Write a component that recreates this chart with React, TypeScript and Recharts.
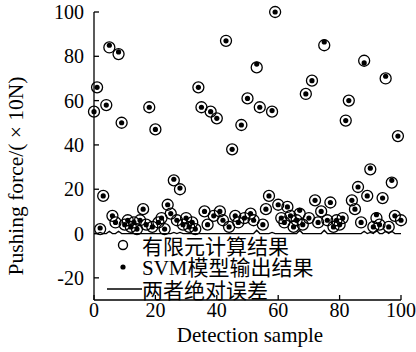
import { ComposedChart, Line, Scatter, XAxis, YAxis, Legend } from "recharts";

// sample index 0..100
const samples = [
  0, 1, 2, 3, 4, 5, 6, 7, 8, 9, 10, 11, 12, 13, 14, 15, 16, 17, 18, 19, 20,
  21, 22, 23, 24, 25, 26, 27, 28, 29, 30, 31, 32, 33, 34, 35, 36, 37, 38, 39, 40,
  41, 42, 43, 44, 45, 46, 47, 48, 49, 50, 51, 52, 53, 54, 55, 56, 57, 58, 59, 60,
  61, 62, 63, 64, 65, 66, 67, 68, 69, 70, 71, 72, 73, 74, 75, 76, 77, 78, 79, 80,
  81, 82, 83, 84, 85, 86, 87, 88, 89, 90, 91, 92, 93, 94, 95, 96, 97, 98, 99, 100,
];

// 有限元计算结果 (×10N)
const feValues = [
  55, 66, 2, 17, 58, 84, 8, 5, 81, 50, 4, 6, 3, 5, 2, 6, 11, 4, 57, 3, 47,
  5, 7, 2, 13, 9, 24, 6, 20, 4, 7, 3, 5, 2, 66, 57, 10, 4, 55, 8, 52,
  10, 6, 87, 3, 38, 8, 5, 49, 7, 61, 9, 6, 75, 57, 4, 11, 17, 55, 100, 13,
  7, 5, 12, 8, 3, 6, 9, 4, 63, 7, 69, 15, 5, 10, 85, 6, 14, 3, 6, 4,
  7, 51, 60, 15, 11, 21, 5, 78, 17, 29, 3, 7, 4, 16, 70, 3, 23, 8, 44, 6,
];

// SVM模型输出结果 (×10N)
const svmValues = [
  55, 66, 2.5, 17, 58, 85, 8, 5, 82, 50, 4, 6, 3, 5, 2, 6, 11, 4, 57, 3, 47,
  5, 7, 2, 13, 9, 24.5, 6, 20.5, 4, 7, 3, 5, 2, 66, 57, 10, 4, 55, 8, 52,
  10, 6, 87, 3, 38, 8, 5, 49, 7, 61, 9, 6, 76.5, 57, 4, 11, 17, 55.5, 100, 13,
  7, 5, 12, 8, 3, 6, 10.5, 4, 63, 7, 69, 15, 5, 10, 86.5, 6, 14, 3, 6, 4,
  7, 51, 60, 15, 11, 21, 5, 77, 17, 29.5, 3, 8.5, 4, 16, 71, 3, 24, 8, 44, 6,
];

const xTicks = [0, 20, 40, 60, 80, 100];
const yTicks = [-20, 0, 20, 40, 60, 80, 100];

const data = samples.map((x, i) => ({
  x,
  fe: feValues[i],
  svm: svmValues[i],
  err: Math.abs(feValues[i] - svmValues[i]),
}));

const FONT = "'Liberation Serif', 'Times New Roman', 'DejaVu Serif', serif";
const CJK = "'Noto Sans CJK SC', sans-serif";

const OpenCircle = (p: any) => (
  <circle cx={p.cx} cy={p.cy} r={5.5} fill="none" stroke="#000" strokeWidth={1.3} />
);
const Dot = (p: any) => <circle cx={p.cx} cy={p.cy} r={2.6} fill="#000" />;

function LegendBox() {
  const row = { display: "flex", alignItems: "center", height: 22, whiteSpace: "nowrap" as const };
  const txt = { fontSize: 21, fontFamily: FONT, color: "#000", lineHeight: "22px" };
  return (
    <div>
      <div style={row}>
        <svg width={42} height={22}>
          <circle cx={23} cy={11} r={4.5} fill="none" stroke="#000" strokeWidth={1.4} />
        </svg>
        <span style={{ ...txt, fontFamily: CJK }}>有限元计算结果</span>
      </div>
      <div style={row}>
        <svg width={42} height={22}>
          <circle cx={23} cy={11} r={2.6} fill="#000" />
        </svg>
        <span style={txt}>
          SVM<span style={{ fontFamily: CJK }}>模型输出结果</span>
        </span>
      </div>
      <div style={row}>
        <svg width={42} height={22}>
          <line x1={7} y1={11} x2={42} y2={11} stroke="#000" strokeWidth={1.3} />
        </svg>
        <span style={{ ...txt, fontFamily: CJK }}>两者绝对误差</span>
      </div>
    </div>
  );
}

const XLabel = () => (
  <text x={250} y={342} textAnchor="middle" fontSize={21} fill="#000" fontFamily={FONT}>
    Detection sample
  </text>
);

const YLabel = () => (
  <text
    x={0}
    y={0}
    transform="translate(23,176) rotate(-90)"
    textAnchor="middle"
    fontSize={21.5}
    fill="#000"
    fontFamily={FONT}
  >
    Pushing force/( × 10N)
  </text>
);

const tickStyle = { fill: "#000", fontSize: 20, fontFamily: FONT };

export default function App() {
  return (
    <div
      style={{
        position: "absolute",
        left: 0,
        top: 0,
        width: 416,
        height: 352,
        background: "#fff",
        fontFamily: FONT,
      }}
    >
      <ComposedChart
        width={416}
        height={352}
        data={data}
        margin={{ top: 12, right: 15, bottom: 0, left: 0 }}
      >
        <XAxis
          dataKey="x"
          type="number"
          domain={[0, 100]}
          ticks={xTicks}
          height={52}
          tickSize={-5}
          tickMargin={8}
          stroke="#000"
          strokeWidth={1.3}
          tick={tickStyle}
          label={{ content: XLabel }}
        />
        <XAxis
          xAxisId="top"
          orientation="top"
          dataKey="x"
          type="number"
          domain={[0, 100]}
          ticks={xTicks}
          height={0}
          tickSize={-5}
          tick={false}
          stroke="#000"
          strokeWidth={1.3}
        />
        <YAxis
          type="number"
          domain={[-30, 100]}
          ticks={yTicks}
          width={94}
          tickSize={-5}
          tickMargin={15}
          stroke="#000"
          strokeWidth={1.3}
          tick={tickStyle}
          label={{ content: YLabel }}
        />
        <YAxis
          yAxisId="right"
          orientation="right"
          type="number"
          domain={[-30, 100]}
          ticks={yTicks}
          width={0}
          tickSize={-5}
          tick={false}
          stroke="#000"
          strokeWidth={1.3}
        />
        <Legend
          layout="vertical"
          align="center"
          verticalAlign="middle"
          content={() => <LegendBox />}
          wrapperStyle={{ left: 100, top: 234, width: 240 }}
        />
        <Line
          dataKey="err"
          type="linear"
          stroke="#000"
          strokeWidth={1.3}
          dot={false}
          activeDot={false}
          isAnimationActive={false}
          legendType="line"
        />
        <Scatter dataKey="fe" shape={OpenCircle} isAnimationActive={false} />
        <Scatter dataKey="svm" shape={Dot} isAnimationActive={false} />
      </ComposedChart>
    </div>
  );
}
